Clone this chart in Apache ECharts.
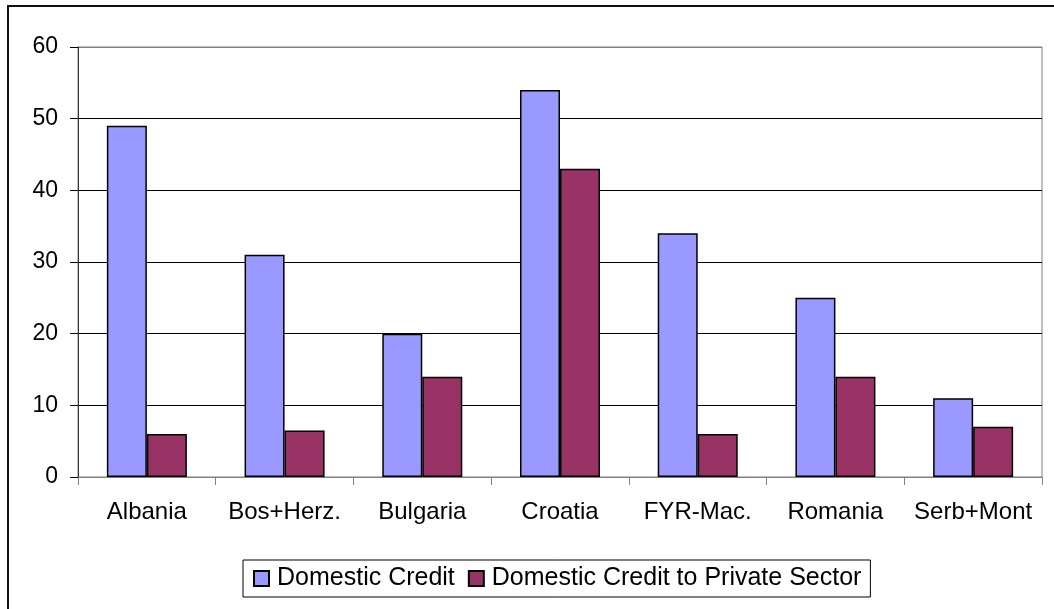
<!DOCTYPE html>
<html>
<head>
<meta charset="utf-8">
<script src="https://cdn.jsdelivr.net/npm/echarts@6/dist/echarts.min.js"></script>
<style>
html, body { margin: 0; padding: 0; background: #fff; }
#chart { width: 1054px; height: 609px; }
</style>
</head>
<body>
<div id="chart"></div>
<script>
const countries = ['Albania', 'Bos+Herz.', 'Bulgaria', 'Croatia', 'FYR-Mac.', 'Romania', 'Serb+Mont'];
const domesticCredit = [49, 31, 20, 54, 34, 25, 11];
const privateCredit = [6, 6.5, 14, 43, 6, 14, 7];
const seriesNames = ['Domestic Credit', 'Domestic Credit to Private Sector'];

const font = 'Arial, "Liberation Sans", sans-serif';

const chart = echarts.init(document.getElementById('chart'));
chart.setOption({
    animation: false,
    backgroundColor: '#fff',
    graphic: [
        {
            // outer chart-area frame, cut off on right and bottom
            type: 'rect',
            shape: { x: 8, y: 6, width: 1200, height: 800 },
            style: { fill: 'none', stroke: '#111', lineWidth: 2 },
            silent: true
        }
    ],
    grid: {
        left: 78,
        right: 12,
        top: 47,
        bottom: 132,
        show: true,
        borderColor: '#808080',
        borderWidth: 1,
        backgroundColor: '#fff'
    },
    legend: {
        data: seriesNames,
        left: 243,
        top: 560,
        padding: [6, 9, 6, 10],
        itemGap: 13,
        itemWidth: 15,
        itemHeight: 15,
        borderColor: '#000',
        borderWidth: 1,
        icon: 'rect',
        textStyle: {
            fontFamily: font,
            fontSize: 25,
            color: '#000',
            padding: [0, 0, 0, 3]
        }
    },
    xAxis: {
        type: 'category',
        data: countries,
        axisLine: { lineStyle: { color: '#808080', width: 1 } },
        axisTick: { show: true, length: 8, lineStyle: { color: '#808080' } },
        axisLabel: {
            fontFamily: font,
            fontSize: 24,
            color: '#000',
            margin: 23,
            interval: 0
        },
        splitLine: { show: false }
    },
    yAxis: {
        type: 'value',
        min: 0,
        max: 60,
        interval: 10,
        axisLine: { show: true, lineStyle: { color: '#333', width: 1 } },
        axisTick: { show: true, length: 8, lineStyle: { color: '#000' } },
        axisLabel: {
            fontFamily: font,
            fontSize: 23,
            color: '#000',
            margin: 20
        },
        splitLine: {
            show: true,
            lineStyle: {
                color: ['#808080', '#000', '#000', '#000', '#000', '#000', '#808080'],
                width: 1
            }
        }
    },
    series: [
        {
            name: seriesNames[0],
            type: 'bar',
            data: domesticCredit,
            barWidth: 40,
            barGap: '0%',
            itemStyle: { color: '#9999FF', borderColor: '#000', borderWidth: 1.5 }
        },
        {
            name: seriesNames[1],
            type: 'bar',
            data: privateCredit,
            barWidth: 40,
            barGap: '0%',
            itemStyle: { color: '#993366', borderColor: '#000', borderWidth: 1.5 }
        }
    ]
});
</script>
</body>
</html>
